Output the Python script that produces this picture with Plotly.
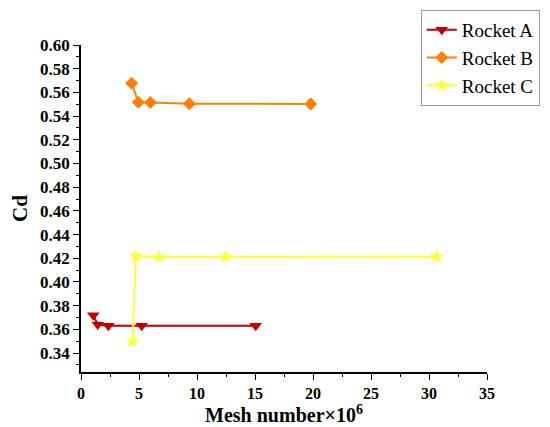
import plotly.graph_objects as go

# Mesh independence data (mesh number in millions, drag coefficient)
mesh_a = [1.06, 1.44, 2.36, 5.23, 15.06]
cd_a = [0.372, 0.364, 0.363, 0.363, 0.363]

mesh_b = [4.37, 4.94, 5.98, 9.34, 19.8]
cd_b = [0.5677, 0.5516, 0.5514, 0.5505, 0.5503]

mesh_c = [4.45, 4.74, 6.72, 12.47, 30.66]
cd_c = [0.350, 0.422, 0.421, 0.4212, 0.4213]

series = [
    ("Rocket A", mesh_a, cd_a, "#C00000", "triangle-down", 11),
    ("Rocket B", mesh_b, cd_b, "#FF8000", "diamond", 10),
    ("Rocket C", mesh_c, cd_c, "#FFFF33", "star", 11),
]

serif = "Liberation Serif"

fig = go.Figure()
for name, x, y, col, sym, sz in series:
    fig.add_trace(go.Scatter(
        x=x, y=y, name=name, mode="lines+markers",
        line=dict(color=col, width=2),
        marker=dict(symbol=sym, size=sz, color=col),
    ))

fig.update_xaxes(
    range=[0, 35], tick0=0, dtick=5,
    showline=True, linecolor="black", linewidth=1.5,
    ticks="outside", ticklen=6, tickwidth=1.2, tickcolor="black",
    minor=dict(ticks="outside", ticklen=3, dtick=2.5, tickcolor="black"),
    showgrid=False, zeroline=False,
    tickfont=dict(family=serif, size=16, color="black", weight="bold"),
    title=dict(text="Mesh number×10<sup>6</sup>", standoff=3,
               font=dict(family=serif, size=20, color="black", weight="bold")),
)
fig.update_yaxes(
    range=[0.324, 0.60], tick0=0.34, dtick=0.02, tickformat=".2f",
    showline=True, linecolor="black", linewidth=1.5,
    ticks="outside", ticklen=6, tickwidth=1.2, tickcolor="black",
    minor=dict(ticks="outside", ticklen=3, dtick=0.01, tickcolor="black"),
    showgrid=False, zeroline=False,
    tickfont=dict(family=serif, size=17, color="black", weight="bold"),
    title=dict(text="Cd", standoff=22,
               font=dict(family=serif, size=21, color="black", weight="bold")),
)

# page body has an 8px margin, so the figure is drawn a bit smaller
fig.update_layout(
    width=542, height=419,
    margin=dict(l=73, r=63, t=37, b=55, autoexpand=False),
    plot_bgcolor="white", paper_bgcolor="white",
    legend=dict(
        x=1.13, y=1.107, xanchor="right", yanchor="top",
        bordercolor="#999999", borderwidth=1,
        font=dict(family=serif, size=19, color="black"),
        bgcolor="white", tracegroupgap=0,
    ),
)

fig.write_html("out.html")
